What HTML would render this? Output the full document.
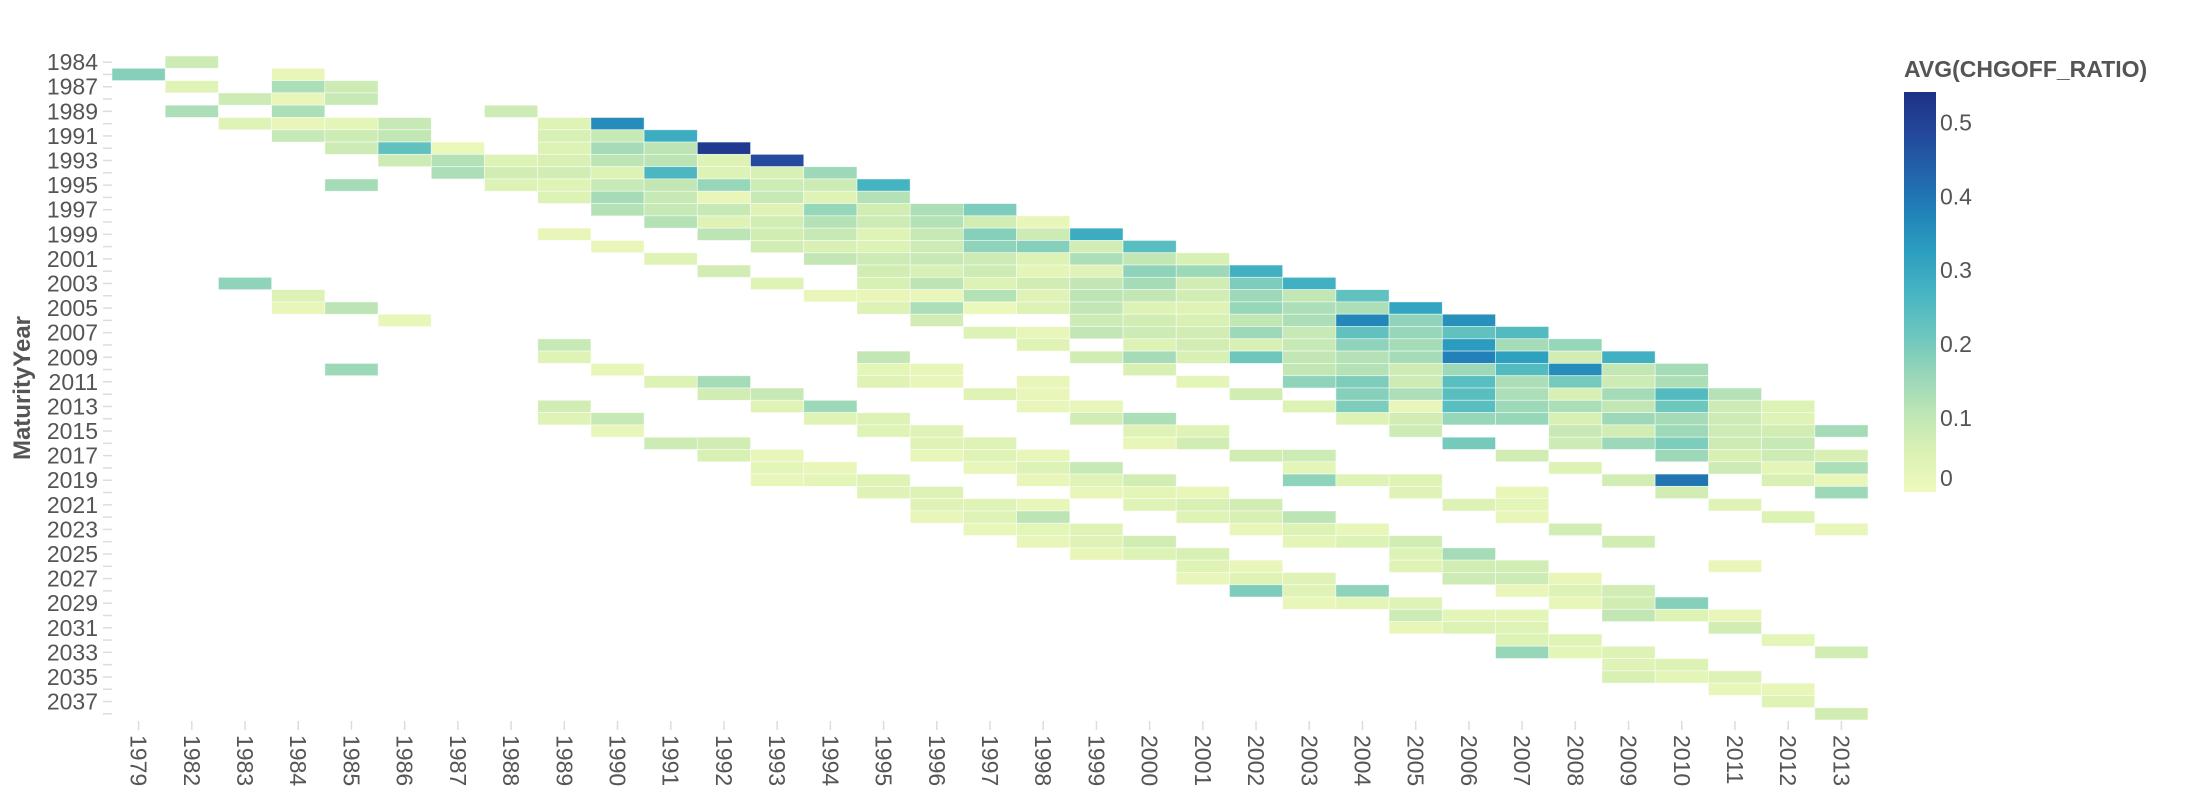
<!DOCTYPE html>
<html><head><meta charset="utf-8">
<style>
html,body{margin:0;padding:0;background:#fff;}
svg{display:block;font-family:"Liberation Sans",Arial,sans-serif;}
</style></head>
<body>
<svg id="chart" width="2190" height="800" viewBox="0 0 2190 800" xmlns="http://www.w3.org/2000/svg">
<defs>
<linearGradient id="lg" x1="0" y1="1" x2="0" y2="0">
<stop offset="0" stop-color="#eff9bd"/><stop offset="0.1" stop-color="#dbf1b4"/><stop offset="0.2" stop-color="#bde5b5"/><stop offset="0.3" stop-color="#94d5b9"/><stop offset="0.4" stop-color="#69c5be"/><stop offset="0.5" stop-color="#45b4c2"/><stop offset="0.6" stop-color="#2c9ec0"/><stop offset="0.7" stop-color="#2182b8"/><stop offset="0.8" stop-color="#2163aa"/><stop offset="0.9" stop-color="#23479c"/><stop offset="1" stop-color="#1c3185"/>
</linearGradient>
</defs>
<g id="cells"></g>
<g id="yaxis"></g>
<g id="xaxis"></g>
<text transform="translate(30,388) rotate(-90)" text-anchor="middle" font-size="24" font-weight="bold" fill="#555">MaturityYear</text>
<text x="990" y="818" text-anchor="middle" font-size="24" font-weight="bold" fill="#555">DisbursementYear</text>
<g id="legend">
<text x="1904" y="77" font-size="23" font-weight="bold" fill="#555">AVG(CHGOFF_RATIO)</text>
<rect x="1904" y="92" width="32" height="400" fill="url(#lg)"/>
</g>
</svg>
<script>
const xYears = [1979,1982,1983,1984,1985,1986,1987,1988,1989,1990,1991,1992,1993,1994,1995,1996,1997,1998,1999,2000,2001,2002,2003,2004,2005,2006,2007,2008,2009,2010,2011,2012,2013];
const yYears = [1984,1986,1987,1988,1989,1990,1991,1992,1993,1994,1995,1996,1997,1998,1999,2000,2001,2002,2003,2004,2005,2006,2007,2008,2009,2010,2011,2012,2013,2014,2015,2016,2017,2018,2019,2020,2021,2022,2023,2024,2025,2026,2027,2028,2029,2030,2031,2032,2033,2034,2035,2036,2037,2038];
const yTickLabels = [1984,1987,1989,1991,1993,1995,1997,1999,2001,2003,2005,2007,2009,2011,2013,2015,2017,2019,2021,2023,2025,2027,2029,2031,2033,2035,2037];
const legendTicks = [0,0.1,0.2,0.3,0.4,0.5];
const colorDomainMax = 0.541;
// cells: column index (into xYears), row index (into yYears), value
const cellCol = [
1, 0,3, 1,3,4, 2,3,4, 1,3,7, 2,3,4,5,8,9, 3,4,5,8,9,10, 4,5,6,8,9,10,11,
5,6,7,8,9,10,11,12, 6,7,8,9,10,11,12,13, 4,7,8,9,10,11,12,13,14, 8,9,10,11,12,13,14,
9,10,11,12,13,14,15,16, 10,11,12,13,14,15,16,17, 8,11,12,13,14,15,16,17,18,
9,12,13,14,15,16,17,18,19, 10,13,14,15,16,17,18,19,20, 11,14,15,16,17,18,19,20,21,
2,12,14,15,16,17,18,19,20,21,22, 3,13,14,15,16,17,18,19,20,21,22,23,
3,4,14,15,16,17,18,19,20,21,22,23,24, 5,15,18,19,20,21,22,23,24,25,
16,17,18,19,20,21,22,23,24,25,26, 8,17,19,20,21,22,23,24,25,26,27,
8,14,18,19,20,21,22,23,24,25,26,27,28, 4,9,14,15,19,22,23,24,25,26,27,28,29,
10,11,14,15,17,20,22,23,24,25,26,27,28,29,
11,12,16,17,21,23,24,25,26,27,28,29,30,
8,12,13,17,18,22,23,24,25,26,27,28,29,30,31,
8,9,13,14,18,19,23,24,25,26,27,28,29,30,31,
9,14,15,19,20,24,27,28,29,30,31,32,
10,11,15,16,19,20,25,27,28,29,30,31,
11,12,15,16,17,21,22,26,29,30,31,32,
12,13,16,17,18,22,27,30,31,32,
12,13,14,17,18,19,22,23,24,28,29,31,32,
14,15,18,19,20,24,26,29,32,
15,16,17,19,20,21,25,26,30,
15,16,17,20,21,22,26,31,
16,17,18,21,22,23,27,32,
17,18,19,22,23,24,28,
18,19,20,24,25,
20,21,24,25,26,30,
20,21,22,25,26,27,
21,22,23,26,27,28,
22,23,24,27,28,29,
24,25,26,28,29,30,
24,25,26,30,
26,27,31,
26,27,28,32,
28,29, 28,29,30, 30,31, 31, 32];
const cellRow = [
0, 1,1, 2,2,2, 3,3,3, 4,4,4, 5,5,5,5,5,5, 6,6,6,6,6,6, 7,7,7,7,7,7,7,
8,8,8,8,8,8,8,8, 9,9,9,9,9,9,9,9, 10,10,10,10,10,10,10,10,10, 11,11,11,11,11,11,11,
12,12,12,12,12,12,12,12, 13,13,13,13,13,13,13,13, 14,14,14,14,14,14,14,14,14,
15,15,15,15,15,15,15,15,15, 16,16,16,16,16,16,16,16,16, 17,17,17,17,17,17,17,17,17,
18,18,18,18,18,18,18,18,18,18,18, 19,19,19,19,19,19,19,19,19,19,19,19,
20,20,20,20,20,20,20,20,20,20,20,20,20, 21,21,21,21,21,21,21,21,21,21,
22,22,22,22,22,22,22,22,22,22,22, 23,23,23,23,23,23,23,23,23,23,23,
24,24,24,24,24,24,24,24,24,24,24,24,24, 25,25,25,25,25,25,25,25,25,25,25,25,25,
26,26,26,26,26,26,26,26,26,26,26,26,26,26,
27,27,27,27,27,27,27,27,27,27,27,27,27,
28,28,28,28,28,28,28,28,28,28,28,28,28,28,28,
29,29,29,29,29,29,29,29,29,29,29,29,29,29,29,
30,30,30,30,30,30,30,30,30,30,30,30,
31,31,31,31,31,31,31,31,31,31,31,31,
32,32,32,32,32,32,32,32,32,32,32,32,
33,33,33,33,33,33,33,33,33,33,
34,34,34,34,34,34,34,34,34,34,34,34,34,
35,35,35,35,35,35,35,35,35,
36,36,36,36,36,36,36,36,36,
37,37,37,37,37,37,37,37,
38,38,38,38,38,38,38,38,
39,39,39,39,39,39,39,
40,40,40,40,40,
41,41,41,41,41,41,
42,42,42,42,42,42,
43,43,43,43,43,43,
44,44,44,44,44,44,
45,45,45,45,45,45,
46,46,46,46,
47,47,47,
48,48,48,48,
49,49, 50,50,50, 51,51, 52, 53];
const cellValue = [
.08, .18,.02, .04,.13,.08, .08,.02,.09, .13,.13,.08, .04,.02,.03,.09,.04,.36, .09,.08,.10,.06,.09,.29, .08,.23,.01,.05,.14,.11,.52,
.08,.12,.05,.06,.11,.11,.05,.48, .13,.07,.07,.05,.26,.05,.06,.15, .14,.05,.04,.09,.10,.16,.08,.08,.27, .05,.14,.09,.02,.09,.04,.12,
.12,.09,.09,.04,.16,.07,.13,.19, .12,.04,.07,.12,.08,.12,.07,.02, .02,.11,.07,.09,.04,.09,.18,.08,.29,
.02,.07,.06,.05,.08,.17,.18,.07,.24, .04,.10,.08,.09,.08,.05,.13,.10,.06, .07,.07,.06,.08,.03,.04,.17,.15,.28,
.17,.04,.06,.11,.05,.07,.10,.14,.07,.19,.28, .05,.02,.02,.02,.12,.04,.11,.10,.07,.15,.10,.23,
.02,.11,.05,.13,.01,.05,.10,.05,.04,.16,.13,.13,.31, .02,.07,.08,.07,.06,.10,.13,.37,.17,.35,
.05,.02,.10,.08,.07,.15,.09,.23,.16,.23,.25, .09,.04,.05,.07,.06,.09,.17,.14,.33,.14,.16,
.04,.10,.07,.14,.06,.21,.10,.12,.14,.38,.32,.07,.28, .15,.02,.03,.02,.06,.10,.12,.08,.15,.25,.36,.10,.14,
.05,.14,.04,.02,.02,.03,.17,.19,.08,.24,.13,.20,.08,.13,
.07,.09,.04,.02,.07,.18,.13,.24,.13,.06,.14,.25,.12,
.07,.04,.15,.02,.02,.05,.19,.02,.24,.15,.13,.10,.21,.08,.05,
.04,.09,.04,.05,.07,.13,.05,.07,.16,.16,.06,.15,.14,.08,.04,
.02,.04,.04,.04,.04,.08,.09,.07,.15,.08,.07,.14,
.08,.07,.04,.04,.02,.07,.20,.08,.15,.19,.08,.09,
.06,.02,.02,.04,.02,.07,.08,.07,.15,.06,.08,.06,
.03,.02,.02,.05,.09,.03,.05,.08,.03,.13,
.02,.03,.04,.02,.04,.07,.17,.04,.04,.07,.40,.06,.02,
.04,.05,.02,.03,.02,.04,.02,.07,.15,
.04,.04,.02,.04,.06,.07,.05,.03,.04,
.02,.04,.11,.04,.06,.11,.02,.05,
.02,.03,.04,.02,.05,.02,.07,.02,
.02,.04,.07,.03,.05,.07,.07,
.02,.05,.06,.05,.14,
.04,.02,.04,.07,.07,.02,
.02,.04,.04,.08,.08,.02,
.19,.04,.17,.02,.05,.07,
.02,.03,.04,.02,.07,.18,
.08,.03,.03,.10,.05,.02,
.02,.05,.04,.07,
.05,.04,.03,
.16,.03,.05,.07,
.04,.05, .06,.03,.05, .02,.02, .04, .07];

const NS = "http://www.w3.org/2000/svg";
const X0 = 112, X1 = 1868, Y0 = 56, Y1 = 720;
const colW = (X1 - X0) / xYears.length;
const rowH = (Y1 - Y0) / yYears.length;
function xScale(i){ return X0 + i * colW; }
function yScale(i){ return Y0 + i * rowH; }
const stops = ["#eff9bd","#dbf1b4","#bde5b5","#94d5b9","#69c5be","#45b4c2","#2c9ec0","#2182b8","#2163aa","#23479c","#1c3185"];
function hex(c){ return [parseInt(c.substr(1,2),16),parseInt(c.substr(3,2),16),parseInt(c.substr(5,2),16)]; }
function color(v){
  let t = Math.max(0, Math.min(1, v / colorDomainMax)) * (stops.length - 1);
  let i = Math.min(Math.floor(t), stops.length - 2), f = t - i;
  let a = hex(stops[i]), b = hex(stops[i+1]);
  return "rgb(" + a.map((c,k)=>Math.round(c + (b[k]-c)*f)).join(",") + ")";
}
function legendY(v){ return 492 - v / colorDomainMax * 400; }

const cellsG = document.getElementById("cells");
for (let k = 0; k < cellValue.length; k++) {
  const r = document.createElementNS(NS, "rect");
  r.setAttribute("x", xScale(cellCol[k]));
  r.setAttribute("y", yScale(cellRow[k]));
  r.setAttribute("width", colW);
  r.setAttribute("height", rowH);
  r.setAttribute("fill", color(cellValue[k]));
  r.setAttribute("stroke", "#ffffff");
  r.setAttribute("stroke-opacity", "0.6");
  r.setAttribute("stroke-width", "0.8");
  
  
  cellsG.appendChild(r);
}

const yG = document.getElementById("yaxis");
for (let i = 0; i < yYears.length; i++) {
  const cy = yScale(i) + rowH / 2;
  const t = document.createElementNS(NS, "line");
  t.setAttribute("x1", 103); t.setAttribute("x2", 112);
  t.setAttribute("y1", cy); t.setAttribute("y2", cy);
  t.setAttribute("stroke", "#dddddd"); t.setAttribute("stroke-width", "1.5");
  
  
  yG.appendChild(t);
  if (yTickLabels.indexOf(yYears[i]) >= 0) {
    const tx = document.createElementNS(NS, "text");
    tx.setAttribute("x", 98); tx.setAttribute("y", cy + 8);
    tx.setAttribute("text-anchor", "end");
    tx.setAttribute("font-size", "23"); tx.setAttribute("fill", "#555");
    tx.textContent = yYears[i];
    
    
    yG.appendChild(tx);
  }
}

const xG = document.getElementById("xaxis");
for (let i = 0; i < xYears.length; i++) {
  const cx = xScale(i) + colW / 2;
  const t = document.createElementNS(NS, "line");
  t.setAttribute("x1", cx); t.setAttribute("x2", cx);
  t.setAttribute("y1", 721); t.setAttribute("y2", 730);
  t.setAttribute("stroke", "#dddddd"); t.setAttribute("stroke-width", "1.5");
  
  
  xG.appendChild(t);
  const tx = document.createElementNS(NS, "text");
  tx.setAttribute("transform", "translate(" + (cx - 8) + ",735) rotate(90)");
  tx.setAttribute("font-size", "23"); tx.setAttribute("fill", "#555");
  tx.textContent = xYears[i];
  
  
  xG.appendChild(tx);
}

const lg = document.getElementById("legend");
for (let i = 0; i < legendTicks.length; i++) {
  const v = legendTicks[i];
  const tx = document.createElementNS(NS, "text");
  tx.setAttribute("x", 1940);
  tx.setAttribute("y", v === 0 ? 486 : legendY(v) + 8);
  tx.setAttribute("font-size", "23"); tx.setAttribute("fill", "#555");
  tx.textContent = String(v);
  
  
  lg.appendChild(tx);
}
</script>
</body></html>
